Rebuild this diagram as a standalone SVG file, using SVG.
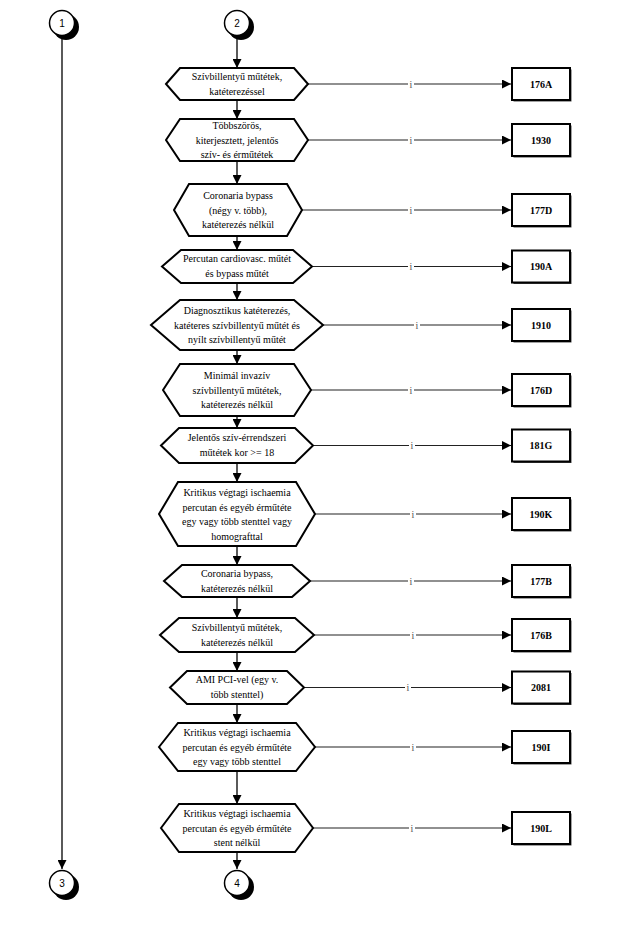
<svg xmlns="http://www.w3.org/2000/svg" width="634" height="927" viewBox="0 0 634 927">
<style>
.hex{fill:#fff;stroke:#000;stroke-width:2}
.t{font-family:"Liberation Serif","Times New Roman",serif;font-size:10px;text-anchor:middle;fill:#000}
.b{font-family:"Liberation Serif","Times New Roman",serif;font-size:10px;font-weight:bold;text-anchor:middle;fill:#000}
.box{fill:#fff;stroke:#000;stroke-width:2}
.sh{fill:#444}
.ln{fill:none;stroke:#000;stroke-width:1.3}
.hl{fill:none;stroke:#222;stroke-width:1.2}
.lbl{font-family:"Liberation Serif","Times New Roman",serif;font-size:10px;text-anchor:middle;fill:#555}
.cw{fill:#fff;stroke:#000;stroke-width:1.5}
.cn{font-family:"Liberation Sans",Arial,sans-serif;font-size:10px;text-anchor:middle;fill:#000}
</style>
<defs>
<marker id="ar" viewBox="0 0 10 10" refX="10" refY="5" markerWidth="9" markerHeight="9" markerUnits="userSpaceOnUse" orient="auto">
<path d="M0,0 L10,5 L0,10 Z" fill="#000"/>
</marker>
</defs>

<g id="connectors">
<path class="ln" d="M62,37 V869" marker-end="url(#ar)"/>
<path class="ln" d="M237,37 V68" marker-end="url(#ar)"/>
<path class="ln" d="M237,100 V119" marker-end="url(#ar)"/>
<path class="ln" d="M237,161 V184" marker-end="url(#ar)"/>
<path class="ln" d="M237,236 V250" marker-end="url(#ar)"/>
<path class="ln" d="M237,283 V300" marker-end="url(#ar)"/>
<path class="ln" d="M237,350 V364" marker-end="url(#ar)"/>
<path class="ln" d="M237,416 V428" marker-end="url(#ar)"/>
<path class="ln" d="M237,463 V482" marker-end="url(#ar)"/>
<path class="ln" d="M237,546 V565" marker-end="url(#ar)"/>
<path class="ln" d="M237,597 V618" marker-end="url(#ar)"/>
<path class="ln" d="M237,652 V671" marker-end="url(#ar)"/>
<path class="ln" d="M237,704 V723" marker-end="url(#ar)"/>
<path class="ln" d="M237,771 V804" marker-end="url(#ar)"/>
<path class="ln" d="M237,852 V869" marker-end="url(#ar)"/>

<path class="hl" d="M308,84 H511" marker-end="url(#ar)"/>
<path class="hl" d="M308,140 H511" marker-end="url(#ar)"/>
<path class="hl" d="M302,210 H511" marker-end="url(#ar)"/>
<path class="hl" d="M312,266.5 H511" marker-end="url(#ar)"/>
<path class="hl" d="M323,325 H511" marker-end="url(#ar)"/>
<path class="hl" d="M311,390 H511" marker-end="url(#ar)"/>
<path class="hl" d="M313,445.5 H511" marker-end="url(#ar)"/>
<path class="hl" d="M315,514 H511" marker-end="url(#ar)"/>
<path class="hl" d="M310,581 H511" marker-end="url(#ar)"/>
<path class="hl" d="M314,635 H511" marker-end="url(#ar)"/>
<path class="hl" d="M304,687.5 H511" marker-end="url(#ar)"/>
<path class="hl" d="M315,747 H511" marker-end="url(#ar)"/>
<path class="hl" d="M313,828 H511" marker-end="url(#ar)"/>

<g>
<rect x="408" y="78" width="6" height="11" fill="#fff"/><text class="lbl" x="411" y="87.5">i</text>
<rect x="408" y="134" width="6" height="11" fill="#fff"/><text class="lbl" x="411" y="143.5">i</text>
<rect x="408" y="204" width="6" height="11" fill="#fff"/><text class="lbl" x="411" y="213.5">i</text>
<rect x="408" y="260.5" width="6" height="11" fill="#fff"/><text class="lbl" x="411" y="270">i</text>
<rect x="414" y="319" width="6" height="11" fill="#fff"/><text class="lbl" x="417" y="328.5">i</text>
<rect x="408" y="384" width="6" height="11" fill="#fff"/><text class="lbl" x="411" y="393.5">i</text>
<rect x="409" y="439.5" width="6" height="11" fill="#fff"/><text class="lbl" x="412" y="449">i</text>
<rect x="410" y="508" width="6" height="11" fill="#fff"/><text class="lbl" x="413" y="517.5">i</text>
<rect x="408" y="575" width="6" height="11" fill="#fff"/><text class="lbl" x="411" y="584.5">i</text>
<rect x="410" y="629" width="6" height="11" fill="#fff"/><text class="lbl" x="413" y="638.5">i</text>
<rect x="405" y="681.5" width="6" height="11" fill="#fff"/><text class="lbl" x="408" y="691">i</text>
<rect x="410" y="741" width="6" height="11" fill="#fff"/><text class="lbl" x="413" y="750.5">i</text>
<rect x="409" y="822" width="6" height="11" fill="#fff"/><text class="lbl" x="412" y="831.5">i</text>
</g>
</g>

<g id="c1"><circle cx="66" cy="27" r="13" fill="#000"/><circle class="cw" cx="62" cy="23" r="12.5"/><text class="cn" x="62" y="26.5">1</text></g>
<g id="c2"><circle cx="241" cy="27" r="13" fill="#000"/><circle class="cw" cx="237" cy="23" r="12.5"/><text class="cn" x="237" y="26.5">2</text></g>
<g id="c3"><circle cx="66" cy="887" r="13" fill="#000"/><circle class="cw" cx="62" cy="883" r="12.5"/><text class="cn" x="62" y="886.5">3</text></g>
<g id="c4"><circle cx="241" cy="887" r="13" fill="#000"/><circle class="cw" cx="237" cy="883" r="12.5"/><text class="cn" x="237" y="886.5">4</text></g>

<g id="h1"><path class="hex" d="M166,84 L180,68 L294,68 L308,84 L294,100 L180,100 Z"/>
<text class="t" x="237" y="80">Szívbillentyű műtétek,</text><text class="t" x="237" y="94.5">katéterezéssel</text></g>
<g id="h2"><path class="hex" d="M166,140 L180,119 L294,119 L308,140 L294,161 L180,161 Z"/>
<text class="t" x="237" y="129">Többszörös,</text><text class="t" x="237" y="143.5">kiterjesztett, jelentős</text><text class="t" x="237" y="158">szív- és érműtétek</text></g>
<g id="h3"><path class="hex" d="M174,210 L189,184 L287,184 L302,210 L287,236 L189,236 Z"/>
<text class="t" x="238" y="199">Coronaria bypass</text><text class="t" x="238" y="213.5">(négy v. több),</text><text class="t" x="238" y="228">katéterezés nélkül</text></g>
<g id="h4"><path class="hex" d="M162,266.5 L181,250 L293,250 L312,266.5 L293,283 L181,283 Z"/>
<text class="t" x="237" y="262">Percutan cardiovasc. műtét</text><text class="t" x="237" y="276.5">és  bypass műtét</text></g>
<g id="h5"><path class="hex" d="M151,325 L180,300 L294,300 L323,325 L294,350 L180,350 Z"/>
<text class="t" x="237" y="314">Diagnosztikus katéterezés,</text><text class="t" x="237" y="328.5">katéteres szívbillentyű műtét és</text><text class="t" x="237" y="343">nyílt szívbillentyű műtét</text></g>
<g id="h6"><path class="hex" d="M163,390 L180,364 L294,364 L311,390 L294,416 L180,416 Z"/>
<text class="t" x="237" y="379">Minimál invazív</text><text class="t" x="237" y="393.5">szívbillentyű műtétek,</text><text class="t" x="237" y="408">katéterezés nélkül</text></g>
<g id="h7"><path class="hex" d="M161,445.5 L179,428 L295,428 L313,445.5 L295,463 L179,463 Z"/>
<text class="t" x="237" y="441">Jelentős szív-érrendszeri</text><text class="t" x="237" y="455.5">műtétek kor &gt;= 18</text></g>
<g id="h8"><path class="hex" d="M159,514 L178,482 L296,482 L315,514 L296,546 L178,546 Z"/>
<text class="t" x="237" y="496">Kritikus végtagi ischaemia</text><text class="t" x="237" y="510.5">percutan és egyéb érműtéte</text><text class="t" x="237" y="525">egy vagy több stenttel vagy</text><text class="t" x="237" y="539.5">homografttal</text></g>
<g id="h9"><path class="hex" d="M164,581 L182,565 L292,565 L310,581 L292,597 L182,597 Z"/>
<text class="t" x="237" y="577">Coronaria bypass,</text><text class="t" x="237" y="591.5">katéterezés nélkül</text></g>
<g id="h10"><path class="hex" d="M160,635 L179,618 L295,618 L314,635 L295,652 L179,652 Z"/>
<text class="t" x="237" y="631">Szívbillentyű műtétek,</text><text class="t" x="237" y="645.5">katéterezés nélkül</text></g>
<g id="h11"><path class="hex" d="M170,687.5 L187,671 L287,671 L304,687.5 L287,704 L187,704 Z"/>
<text class="t" x="237" y="683">AMI PCI-vel (egy v.</text><text class="t" x="237" y="697.5">több stenttel)</text></g>
<g id="h12"><path class="hex" d="M159,747 L178,723 L296,723 L315,747 L296,771 L178,771 Z"/>
<text class="t" x="237" y="736">Kritikus végtagi ischaemia</text><text class="t" x="237" y="750.5">percutan és egyéb érműtéte</text><text class="t" x="237" y="765">egy vagy több stenttel</text></g>
<g id="h13"><path class="hex" d="M161,828 L179,804 L295,804 L313,828 L295,852 L179,852 Z"/>
<text class="t" x="237" y="817">Kritikus végtagi ischaemia</text><text class="t" x="237" y="831.5">percutan és egyéb érműtéte</text><text class="t" x="237" y="846">stent nélkül</text></g>

<g id="b1"><rect class="sh" x="513.5" y="69.5" width="58" height="32"/><rect class="box" x="512" y="68" width="58" height="32"/><text class="b" x="541" y="87.5">176A</text></g>
<g id="b2"><rect class="sh" x="513.5" y="125.5" width="58" height="32"/><rect class="box" x="512" y="124" width="58" height="32"/><text class="b" x="541" y="143.5">1930</text></g>
<g id="b3"><rect class="sh" x="513.5" y="195.5" width="58" height="32"/><rect class="box" x="512" y="194" width="58" height="32"/><text class="b" x="541" y="213.5">177D</text></g>
<g id="b4"><rect class="sh" x="513.5" y="252" width="58" height="32"/><rect class="box" x="512" y="250.5" width="58" height="32"/><text class="b" x="541" y="270">190A</text></g>
<g id="b5"><rect class="sh" x="513.5" y="310.5" width="58" height="32"/><rect class="box" x="512" y="309" width="58" height="32"/><text class="b" x="541" y="328.5">1910</text></g>
<g id="b6"><rect class="sh" x="513.5" y="375.5" width="58" height="32"/><rect class="box" x="512" y="374" width="58" height="32"/><text class="b" x="541" y="393.5">176D</text></g>
<g id="b7"><rect class="sh" x="513.5" y="431" width="58" height="32"/><rect class="box" x="512" y="429.5" width="58" height="32"/><text class="b" x="541" y="449">181G</text></g>
<g id="b8"><rect class="sh" x="513.5" y="499.5" width="58" height="32"/><rect class="box" x="512" y="498" width="58" height="32"/><text class="b" x="541" y="517.5">190K</text></g>
<g id="b9"><rect class="sh" x="513.5" y="566.5" width="58" height="32"/><rect class="box" x="512" y="565" width="58" height="32"/><text class="b" x="541" y="584.5">177B</text></g>
<g id="b10"><rect class="sh" x="513.5" y="620.5" width="58" height="32"/><rect class="box" x="512" y="619" width="58" height="32"/><text class="b" x="541" y="638.5">176B</text></g>
<g id="b11"><rect class="sh" x="513.5" y="673" width="58" height="32"/><rect class="box" x="512" y="671.5" width="58" height="32"/><text class="b" x="541" y="691">2081</text></g>
<g id="b12"><rect class="sh" x="513.5" y="732.5" width="58" height="32"/><rect class="box" x="512" y="731" width="58" height="32"/><text class="b" x="541" y="750.5">190I</text></g>
<g id="b13"><rect class="sh" x="513.5" y="813.5" width="58" height="32"/><rect class="box" x="512" y="812" width="58" height="32"/><text class="b" x="541" y="831.5">190L</text></g>
</svg>
